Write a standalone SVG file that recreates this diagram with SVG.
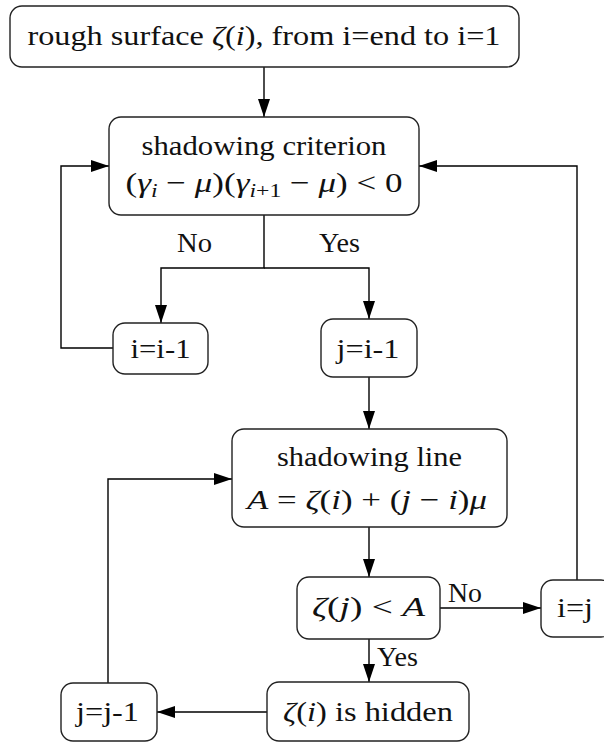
<svg xmlns="http://www.w3.org/2000/svg" width="604" height="743" viewBox="0 0 604 743" font-family="Liberation Serif, Times New Roman, serif">
<style>
.box{fill:#fff;stroke:#222;stroke-width:1.4}
text{font-family:"Liberation Serif","Times New Roman",serif;font-size:28px;fill:#111}
.t{text-anchor:middle}
.i{font-style:italic}
.s{font-size:19px;font-style:italic}
.c{fill:none;stroke:#000;stroke-width:1.4}
</style>
<defs>
<marker id="ah" markerWidth="18" markerHeight="12" refX="18" refY="6" orient="auto" markerUnits="userSpaceOnUse">
<path d="M0,0 L18,6 L0,12 Z" fill="#000"/>
</marker>
</defs>
<g id="connectors">
<path class="c" d="M264,67 V117" marker-end="url(#ah)"/>
<path class="c" d="M264,215 V268 H161 V323" marker-end="url(#ah)"/>
<path class="c" d="M264,268 H369 V319" marker-end="url(#ah)"/>
<path class="c" d="M113,348 H61 V166 H109" marker-end="url(#ah)"/>
<path class="c" d="M369,377 V429" marker-end="url(#ah)"/>
<path class="c" d="M369,527 V577" marker-end="url(#ah)"/>
<path class="c" d="M440,608 H541" marker-end="url(#ah)"/>
<path class="c" d="M577,580 V166 H419" marker-end="url(#ah)"/>
<path class="c" d="M369,639 V682" marker-end="url(#ah)"/>
<path class="c" d="M267,712 H157" marker-end="url(#ah)"/>
<path class="c" d="M108,683 V479 H232" marker-end="url(#ah)"/>
<text x="177" y="252" textLength="35" lengthAdjust="spacingAndGlyphs">No</text>
<text x="319" y="252" textLength="41" lengthAdjust="spacingAndGlyphs">Yes</text>
<text x="448" y="602" textLength="34" lengthAdjust="spacingAndGlyphs">No</text>
<text x="377" y="666" textLength="41" lengthAdjust="spacingAndGlyphs">Yes</text>
</g>
<g id="start">
<rect class="box" x="10" y="6" width="509" height="61" rx="12"/>
<text class="t" x="264" y="45" textLength="473" lengthAdjust="spacingAndGlyphs">rough surface <tspan class="i">ζ</tspan>(<tspan class="i">i</tspan>), from i=end to i=1</text>
</g>
<g id="criterion">
<rect class="box" x="109" y="117" width="310" height="98" rx="12"/>
<text class="t" x="264" y="155" textLength="245" lengthAdjust="spacingAndGlyphs">shadowing criterion</text>
<text class="t" x="264" y="192" textLength="277" lengthAdjust="spacingAndGlyphs">(<tspan class="i">γ</tspan><tspan class="s" dy="5">i</tspan><tspan dy="-5"> − </tspan><tspan class="i">μ</tspan>)(<tspan class="i">γ</tspan><tspan class="s" dy="5">i</tspan><tspan dy="0" font-size="19px">+1</tspan><tspan dy="-5"> − </tspan><tspan class="i">μ</tspan>) &lt; 0</text>
</g>
<g id="dec-i">
<rect class="box" x="113" y="323" width="95" height="51" rx="12"/>
<text class="t" x="160.5" y="358" textLength="60" lengthAdjust="spacingAndGlyphs">i=i-1</text>
</g>
<g id="set-j">
<rect class="box" x="321" y="319" width="96" height="58" rx="12"/>
<text class="t" x="368" y="358" textLength="63" lengthAdjust="spacingAndGlyphs">j=i-1</text>
</g>
<g id="line">
<rect class="box" x="232" y="429" width="275" height="98" rx="12"/>
<text class="t" x="369.5" y="466" textLength="185" lengthAdjust="spacingAndGlyphs">shadowing line</text>
<text class="t" x="367" y="509" textLength="240" lengthAdjust="spacingAndGlyphs"><tspan class="i">A</tspan> = <tspan class="i">ζ</tspan>(<tspan class="i">i</tspan>) + (<tspan class="i">j</tspan> − <tspan class="i">i</tspan>)<tspan class="i">μ</tspan></text>
</g>
<g id="test">
<rect class="box" x="297" y="577" width="143" height="62" rx="12"/>
<text class="t" x="368.5" y="616" textLength="113" lengthAdjust="spacingAndGlyphs"><tspan class="i">ζ</tspan>(<tspan class="i">j</tspan>) &lt; <tspan class="i">A</tspan></text>
</g>
<g id="set-i">
<rect class="box" x="541" y="580" width="72" height="57" rx="12"/>
<text class="t" x="575" y="617" textLength="36" lengthAdjust="spacingAndGlyphs">i=j</text>
</g>
<g id="hidden">
<rect class="box" x="267" y="682" width="202" height="59" rx="12"/>
<text class="t" x="368" y="721" textLength="170" lengthAdjust="spacingAndGlyphs"><tspan class="i">ζ</tspan>(<tspan class="i">i</tspan>) is hidden</text>
</g>
<g id="dec-j">
<rect class="box" x="61" y="683" width="96" height="58" rx="12"/>
<text class="t" x="107.5" y="721" textLength="63" lengthAdjust="spacingAndGlyphs">j=j-1</text>
</g>
</svg>
